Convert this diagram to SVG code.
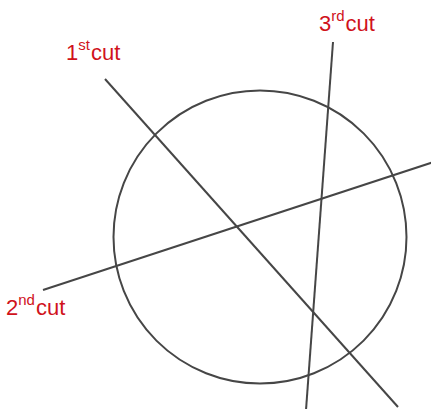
<svg xmlns="http://www.w3.org/2000/svg" width="431" height="409" viewBox="0 0 431 409">
<style>
.ln{stroke:#464646;stroke-width:2;fill:none}
.lbl{font-family:"Liberation Sans",Arial,sans-serif;font-size:22px;fill:#d0121b}
.sup{font-size:15px}
</style>
<rect width="431" height="409" fill="#fff"/>
<g id="circle"><circle class="ln" cx="260" cy="237" r="146.5"/></g>
<g id="connectors">
<line id="cut1" class="ln" x1="105" y1="79" x2="398" y2="407"/>
<line id="cut2" class="ln" x1="43" y1="290" x2="432" y2="162.5"/>
<line id="cut3" class="ln" x1="333" y1="42" x2="306" y2="410"/>
</g>
<g id="label1"><text class="lbl" x="66" y="60">1<tspan class="sup" dy="-10">st</tspan><tspan dy="10" dx="1">cut</tspan></text></g>
<g id="label2"><text class="lbl" x="6" y="315">2<tspan class="sup" dy="-10">nd</tspan><tspan dy="10" dx="1">cut</tspan></text></g>
<g id="label3"><text class="lbl" x="319" y="31">3<tspan class="sup" dy="-10">rd</tspan><tspan dy="10" dx="1">cut</tspan></text></g>
</svg>
